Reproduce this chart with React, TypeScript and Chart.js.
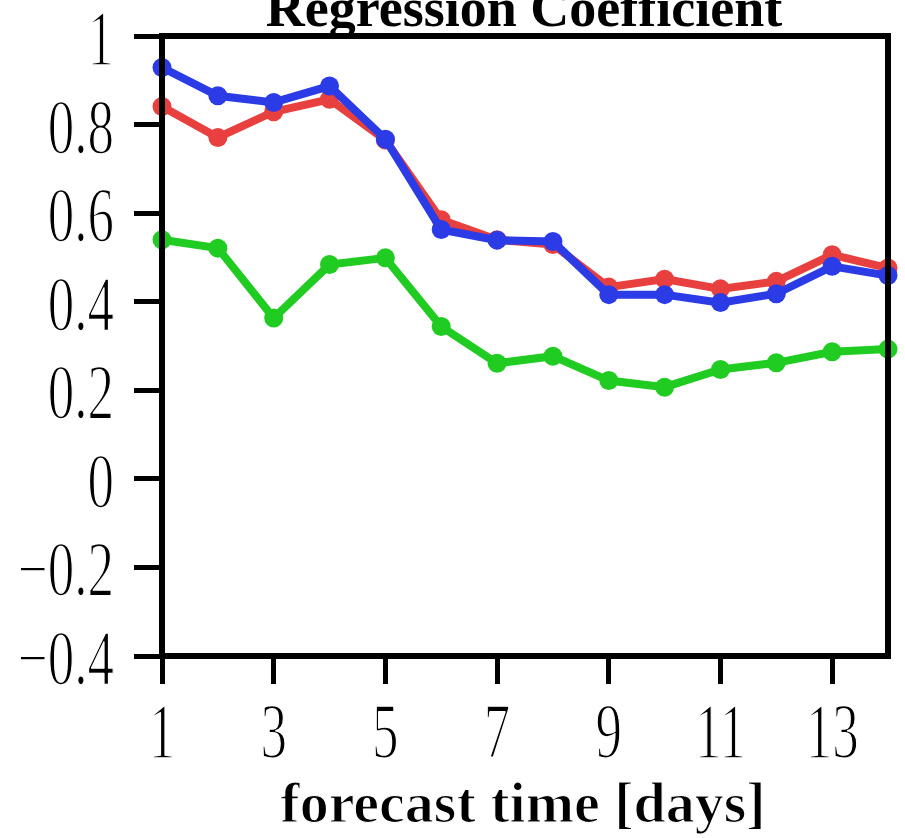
import { useEffect, useRef } from "react";
import { Chart, registerables } from "chart.js";

Chart.register(...registerables);

const W = 905;
const H = 838;

const DAYS = [1, 2, 3, 4, 5, 6, 7, 8, 9, 10, 11, 12, 13, 14];
const BLUE = [0.929, 0.865, 0.85, 0.887, 0.767, 0.563, 0.539, 0.536, 0.416, 0.416, 0.398, 0.418, 0.48, 0.459];
const RED = [0.841, 0.771, 0.829, 0.857, 0.765, 0.585, 0.54, 0.529, 0.433, 0.451, 0.429, 0.446, 0.506, 0.476];
const GREEN = [0.54, 0.521, 0.363, 0.484, 0.499, 0.344, 0.261, 0.277, 0.222, 0.207, 0.247, 0.262, 0.287, 0.293];

const X_TICKS = [1, 3, 5, 7, 9, 11, 13];
const X_TICK_LABELS = ["1", "3", "5", "7", "9", "11", "13"];
const Y_TICKS = [1, 0.8, 0.6, 0.4, 0.2, 0, -0.2, -0.4];
const Y_TICK_LABELS = ["1", "0.8", "0.6", "0.4", "0.2", "0", "\u22120.2", "\u22120.4"];

const TITLE = "Regression Coefficient";
const X_TITLE = "forecast time [days]";

const DIGIT_FONT = '78px "Liberation Serif"';
const DIGIT_SCALE = 0.68;

function thinText(ctx: CanvasRenderingContext2D, s: string, x: number, y: number, thin: number) {
  ctx.fillStyle = "#000";
  ctx.fillText(s, x, y);
  if (thin > 0) {
    ctx.strokeStyle = "#fff";
    ctx.lineWidth = thin;
    ctx.lineJoin = "round";
    ctx.strokeText(s, x, y);
  }
}

const nclPlugin = {
  id: "nclText",
  afterDatasetsDraw(chart: any) {
    const { ctx, chartArea: a } = chart;
    ctx.save();
    ctx.strokeStyle = "#000";
    ctx.lineWidth = 6;
    ctx.lineJoin = "miter";
    ctx.strokeRect(a.left, a.top, a.right - a.left, a.bottom - a.top);
    ctx.restore();
  },
  afterDraw(chart: any) {
    const { ctx, chartArea: a, scales } = chart;
    const xs = scales.x;
    const ys = scales.y;
    ctx.save();
    ctx.font = DIGIT_FONT;
    ctx.textBaseline = "alphabetic";
    ctx.textAlign = "right";
    Y_TICKS.forEach((v, i) => {
      const py = ys.getPixelForValue(v);
      ctx.save();
      ctx.translate(114, py + 28);
      ctx.scale(DIGIT_SCALE, 1);
      thinText(ctx, Y_TICK_LABELS[i], 0, 0, 1.6);
      ctx.restore();
    });
    ctx.textAlign = "center";
    X_TICKS.forEach((v, i) => {
      const px = xs.getPixelForValue(v);
      ctx.save();
      ctx.translate(px, 757);
      ctx.scale(DIGIT_SCALE, 1);
      thinText(ctx, X_TICK_LABELS[i], 0, 0, 1.6);
      ctx.restore();
    });
    const cx = (a.left + a.right) / 2;
    ctx.textAlign = "center";
    ctx.font = 'bold 58px "Liberation Serif"';
    thinText(ctx, X_TITLE, cx - 2, 822, 1.2);
    ctx.font = 'bold 54px "Liberation Serif"';
    thinText(ctx, TITLE, cx - 1, 26, 0);
    ctx.restore();
  },
};

function pts(vals: number[]) {
  return DAYS.map((d, i) => ({ x: d, y: vals[i] }));
}

export default function App() {
  const ref = useRef<HTMLCanvasElement>(null);
  useEffect(() => {
    document.body.style.margin = "0";
    const mk = (label: string, color: string, vals: number[]) => ({
      label,
      data: pts(vals),
      borderColor: color,
      backgroundColor: color,
      pointBackgroundColor: color,
      pointBorderColor: color,
      borderWidth: 8,
      pointRadius: 9.5,
      pointBorderWidth: 0,
      tension: 0,
      clip: false as any,
    });
    const chart = new Chart(ref.current!, {
      type: "line",
      data: {
        datasets: [
          mk("blue", "#2b3be6", BLUE),
          mk("red", "#e8403f", RED),
          mk("green", "#20cc22", GREEN),
        ],
      },
      options: {
        responsive: false,
        animation: false,
        devicePixelRatio: 1,
        layout: { padding: { top: 36, right: 17, left: 0, bottom: 0 } },
        plugins: { legend: { display: false }, tooltip: { enabled: false }, title: { display: false } },
        scales: {
          x: {
            type: "linear",
            min: 1,
            max: 14,
            afterBuildTicks: (s: any) => {
              s.ticks = X_TICKS.map((v) => ({ value: v }));
            },
            afterFit: (s: any) => {
              s.height = 182;
            },
            ticks: { display: false },
            grid: { drawOnChartArea: false, drawTicks: true, tickLength: 28, color: "#000", lineWidth: 5 },
            border: { display: true, color: "#000", width: 6 },
          },
          y: {
            type: "linear",
            min: -0.4,
            max: 1,
            afterBuildTicks: (s: any) => {
              s.ticks = Y_TICKS.map((v) => ({ value: v }));
            },
            afterFit: (s: any) => {
              s.width = 162;
            },
            ticks: { display: false },
            grid: { drawOnChartArea: false, drawTicks: true, tickLength: 28, color: "#000", lineWidth: 5 },
            border: { display: true, color: "#000", width: 6 },
          },
        },
      },
      plugins: [nclPlugin],
    } as any);
    return () => chart.destroy();
  }, []);
  return (
    <div style={{ width: W, height: H, background: "#fff" }}>
      <canvas ref={ref} width={W} height={H} style={{ display: "block", width: W, height: H }} />
    </div>
  );
}
